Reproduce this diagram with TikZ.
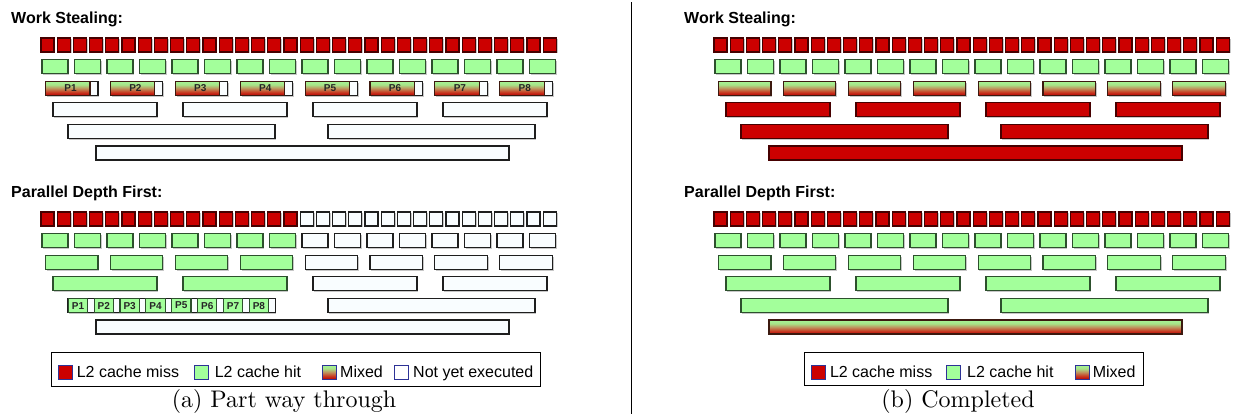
\documentclass[tikz,border=0pt]{standalone}
\usepackage{fontspec}
\newfontfamily\sansf{Liberation Sans}
\definecolor{missred}{RGB}{204,0,0}
\definecolor{missborder}{RGB}{70,0,0}
\definecolor{hitgreen}{RGB}{163,255,155}
\definecolor{hitborder}{RGB}{45,80,45}
\definecolor{mixborder}{RGB}{60,25,15}
\definecolor{todofill}{RGB}{249,253,255}
\definecolor{todoborder}{RGB}{30,30,30}
\definecolor{legborder}{RGB}{45,50,150}
\pgfdeclareverticalshading{mixshade}{100bp}{%
  color(0bp)=(rgb,255:red,185;green,5;blue,5);
  color(25bp)=(rgb,255:red,185;green,5;blue,5);
  color(36bp)=(rgb,255:red,200;green,60;blue,35);
  color(50bp)=(rgb,255:red,190;green,150;blue,95);
  color(62bp)=(rgb,255:red,168;green,225;blue,135);
  color(75bp)=(rgb,255:red,165;green,245;blue,150);
  color(100bp)=(rgb,255:red,165;green,245;blue,150)}
\tikzset{
  x=1pt, y=-1pt,
  cell/.style={line width=1.1pt},
  miss/.style={cell, fill=missred, draw=missborder},
  hit/.style={cell, fill=hitgreen, draw=hitborder},
  mixed/.style={cell, shading=mixshade, draw=mixborder},
  todo/.style={cell, fill=todofill, draw=todoborder},
  shade/.style={fill=black!22},
  title/.style={font=\sansf\bfseries\fontsize{16}{19}\selectfont, anchor=base west, inner sep=0pt},
  plabel/.style={font=\sansf\bfseries\fontsize{10}{12}\selectfont, inner sep=0pt, text=black!85},
  legtext/.style={font=\sansf\fontsize{16}{19}\selectfont, anchor=base west, inner sep=0pt},
  legsq/.style={line width=0.9pt, draw=legborder},
  caption/.style={font=\fontsize{10}{12}\selectfont, anchor=base, inner sep=0pt},
}
% x, y, w, style  (with shadow)
\newcommand\cellbox[4]{%
  \path[shade] (#1+1.3,#2+1.3) rectangle ++(#3,14);
  \path[#4] (#1,#2) rectangle ++(#3,14);}
% x, y, w, style (no shadow)
\newcommand\plainbox[4]{\path[#4] (#1,#2) rectangle ++(#3,14);}
% X0, Ytop, start, pitch, w, from, to, style
\newcommand\cellrange[8]{\foreach \i in {#6,...,#7}{\cellbox{#1+#3+\i*#4}{#2}{#5}{#8}}}
\begin{document}
\begin{tikzpicture}
\useasboundingbox (0,0) rectangle (1238,418);
\fill[white] (0,0) rectangle (1238,418);
% ---------------- (a) Part way through ----------------
\node[title] (ta1) at (11,23.2) {Work Stealing:};
\cellrange{0}{38}{41}{16.2}{13}{0}{31}{miss}
\cellrange{0}{59.6}{42}{32.5}{26}{0}{15}{hit}
\foreach \i [count=\n] in {0,...,7}{
  \cellbox{45.5+\i*64.9}{81.2}{52.5}{todo}
  \plainbox{45.5+\i*64.9}{81.2}{44.5}{mixed}
  \node[plabel] (wsp\n) at (45.5+\i*64.9+25,88.4) {P\n};
}
\cellrange{0}{102.8}{53}{130}{104}{0}{3}{todo}
\cellrange{0}{124.4}{68}{260}{207}{0}{1}{todo}
\cellbox{96}{146}{413}{todo}

\node[title] (ta2) at (11,197.2) {Parallel Depth First:};
\cellrange{0}{212}{41}{16.2}{13}{0}{15}{miss}
\cellrange{0}{212}{41}{16.2}{13}{16}{31}{todo}
\cellrange{0}{233.6}{42}{32.5}{26}{0}{7}{hit}
\cellrange{0}{233.6}{42}{32.5}{26}{8}{15}{todo}
\cellrange{0}{255.2}{45.5}{64.9}{52.5}{0}{3}{hit}
\cellrange{0}{255.2}{45.5}{64.9}{52.5}{4}{7}{todo}
\cellrange{0}{276.8}{53}{130}{104}{0}{1}{hit}
\cellrange{0}{276.8}{53}{130}{104}{2}{3}{todo}
\cellrange{0}{298.4}{68}{260}{207}{0}{1}{todo}
\foreach \i [count=\n] in {0,...,7}{
  \plainbox{68.3+\i*25.85}{298.4}{25.85}{todo}
  \plainbox{68.3+\i*25.85}{298.4}{19.3}{hit}
  \node[plabel] (pdp\n) at (68.3+\i*25.85+9.65,305.6) {P\n};
}
\cellbox{96}{320}{413}{todo}

% legend (a)
\draw[line width=0.9pt, fill=white] (51,352) rectangle (540,386);
\path[legsq, fill=missred] (58.6,365) rectangle ++(14,14);
\node[legtext] (la1) at (76.6,377.8) {L2 cache miss};
\path[legsq, fill=hitgreen] (194,365) rectangle ++(14,14);
\node[legtext] (la2) at (214.6,377.8) {L2 cache hit};
\path[legsq, shading=mixshade] (322,365) rectangle ++(14,14);
\node[legtext] (la3) at (340,377.8) {Mixed};
\path[legsq, fill=white] (394.6,365) rectangle ++(14,14);
\node[legtext] (la4) at (413,377.8) {Not yet executed};
\begin{scope}[shift={(284,407)}, scale=2.4, transform shape]
\node[caption] (capa) at (0,0) {(a) Part way through};
\end{scope}

% separator
\coordinate (sepT) at (631.7,2);
\coordinate (sepB) at (631.7,414);
\draw[line width=0.9pt] (sepT) -- (sepB);

% ---------------- (b) Completed ----------------
\node[title] (tb1) at (684,23.2) {Work Stealing:};
\cellrange{673}{38}{41}{16.2}{13}{0}{31}{miss}
\cellrange{673}{59.6}{42}{32.5}{26}{0}{15}{hit}
\cellrange{673}{81.2}{45.5}{64.9}{52.5}{0}{7}{mixed}
\cellrange{673}{102.8}{53}{130}{104}{0}{3}{miss}
\cellrange{673}{124.4}{68}{260}{207}{0}{1}{miss}
\cellbox{673+96}{146}{413}{miss}

\node[title] (tb2) at (684,197.2) {Parallel Depth First:};
\cellrange{673}{212}{41}{16.2}{13}{0}{31}{miss}
\cellrange{673}{233.6}{42}{32.5}{26}{0}{15}{hit}
\cellrange{673}{255.2}{45.5}{64.9}{52.5}{0}{7}{hit}
\cellrange{673}{276.8}{53}{130}{104}{0}{3}{hit}
\cellrange{673}{298.4}{68}{260}{207}{0}{1}{hit}
\cellbox{673+96}{320}{413}{mixed}

% legend (b)
\draw[line width=0.9pt, fill=white] (804,352) rectangle (1143,385);
\path[legsq, fill=missred] (811.6,365) rectangle ++(14,14);
\node[legtext] (lb1) at (829.8,377.8) {L2 cache miss};
\path[legsq, fill=hitgreen] (946,365) rectangle ++(14,14);
\node[legtext] (lb2) at (967,377.8) {L2 cache hit};
\path[legsq, shading=mixshade] (1075.5,365) rectangle ++(14,14);
\node[legtext] (lb3) at (1092.6,377.8) {Mixed};
\begin{scope}[shift={(958,407)}, scale=2.4, transform shape]
\node[caption] (capb) at (0,0) {(b) Completed};
\end{scope}
\end{tikzpicture}
\end{document}
